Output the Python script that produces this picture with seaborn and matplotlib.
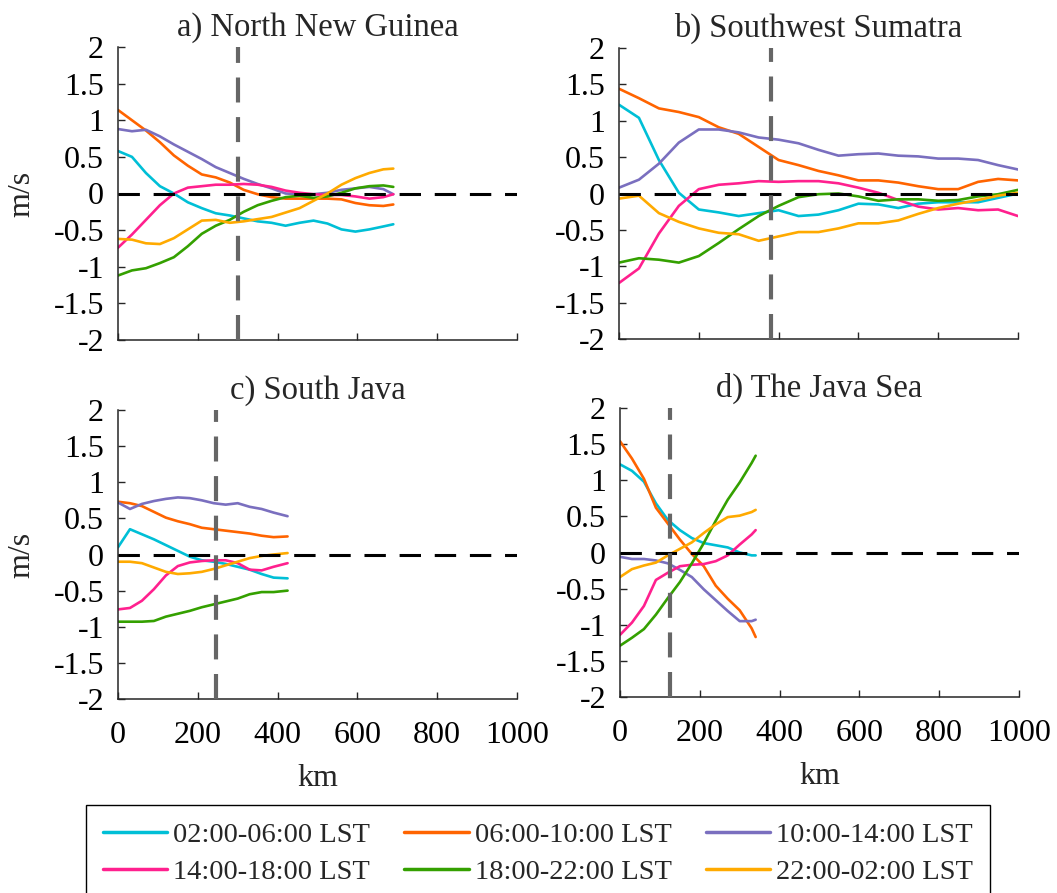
import pandas as pd
import matplotlib
matplotlib.use('Agg')
import matplotlib.pyplot as plt
from matplotlib.lines import Line2D
import seaborn as sns

# Periods and line colours
periods = ['02:00-06:00 LST', '06:00-10:00 LST', '10:00-14:00 LST',
           '14:00-18:00 LST', '18:00-22:00 LST', '22:00-02:00 LST']
colors = ['#00bfd6', '#ff6400', '#7a6fbf', '#ff208e', '#34a000', '#ffaa00']

# a) North New Guinea
km_a = [0, 35, 70, 105, 140, 175, 210, 245, 280, 315, 350, 385, 420, 455, 490, 525, 560, 595, 630, 665, 690]
a_0206 = [0.58, 0.50, 0.28, 0.10, 0.0, -0.12, -0.20, -0.27, -0.30, -0.34, -0.38, -0.40, -0.44, -0.40, -0.37, -0.41, -0.49, -0.52, -0.49, -0.45, -0.42]
a_0610 = [1.14, 1.0, 0.86, 0.70, 0.52, 0.38, 0.26, 0.22, 0.15, 0.05, -0.01, -0.05, -0.07, -0.07, -0.07, -0.07, -0.08, -0.13, -0.16, -0.17, -0.15]
a_1014 = [0.88, 0.85, 0.87, 0.78, 0.67, 0.57, 0.47, 0.36, 0.28, 0.20, 0.13, 0.07, 0.0, -0.01, -0.01, 0.01, 0.05, 0.07, 0.09, 0.06, -0.01]
a_1418 = [-0.74, -0.56, -0.36, -0.16, 0.0, 0.08, 0.10, 0.12, 0.12, 0.13, 0.12, 0.09, 0.04, 0.01, -0.01, -0.02, -0.02, -0.04, -0.07, -0.05, -0.01]
a_1822 = [-1.12, -1.05, -1.02, -0.95, -0.87, -0.72, -0.55, -0.44, -0.36, -0.25, -0.16, -0.10, -0.05, -0.03, -0.06, -0.04, 0.01, 0.07, 0.10, 0.11, 0.09]
a_2202 = [-0.62, -0.63, -0.68, -0.69, -0.61, -0.49, -0.37, -0.36, -0.40, -0.38, -0.35, -0.32, -0.26, -0.20, -0.10, 0.0, 0.12, 0.21, 0.28, 0.33, 0.34]

# b) Southwest Sumatra
km_b = [0, 50, 100, 150, 200, 250, 300, 350, 400, 450, 500, 550, 600, 650, 700, 750, 800, 850, 900, 950, 1000]
b_0206 = [1.22, 1.04, 0.46, 0.01, -0.22, -0.26, -0.31, -0.27, -0.23, -0.31, -0.29, -0.23, -0.14, -0.15, -0.20, -0.14, -0.12, -0.12, -0.12, -0.06, 0.0]
b_0610 = [1.44, 1.31, 1.17, 1.12, 1.05, 0.91, 0.82, 0.64, 0.46, 0.39, 0.31, 0.25, 0.18, 0.18, 0.15, 0.10, 0.06, 0.06, 0.16, 0.20, 0.18]
b_1014 = [0.08, 0.19, 0.41, 0.70, 0.88, 0.88, 0.84, 0.77, 0.74, 0.69, 0.60, 0.52, 0.54, 0.55, 0.52, 0.51, 0.48, 0.48, 0.46, 0.39, 0.33]
b_1418 = [-1.23, -1.03, -0.55, -0.17, 0.06, 0.12, 0.14, 0.17, 0.16, 0.17, 0.17, 0.14, 0.08, 0.01, -0.09, -0.18, -0.22, -0.20, -0.23, -0.22, -0.31]
b_1822 = [-0.95, -0.89, -0.91, -0.95, -0.86, -0.68, -0.49, -0.31, -0.17, -0.05, -0.01, 0.0, -0.04, -0.10, -0.08, -0.08, -0.10, -0.09, -0.04, -0.01, 0.05]
b_2202 = [-0.07, -0.03, -0.27, -0.39, -0.48, -0.54, -0.56, -0.65, -0.59, -0.53, -0.53, -0.48, -0.41, -0.41, -0.37, -0.28, -0.20, -0.14, -0.09, -0.03, 0.01]

# c) South Java
km_c = [0, 30, 60, 90, 120, 150, 180, 210, 240, 270, 300, 330, 360, 390, 425]
c_0206 = [0.10, 0.35, 0.28, 0.21, 0.13, 0.05, -0.03, -0.08, -0.10, -0.13, -0.17, -0.21, -0.27, -0.32, -0.33]
c_0610 = [0.73, 0.71, 0.67, 0.59, 0.51, 0.46, 0.42, 0.37, 0.35, 0.33, 0.31, 0.29, 0.26, 0.24, 0.25]
c_1014 = [0.72, 0.63, 0.70, 0.74, 0.77, 0.79, 0.78, 0.75, 0.71, 0.69, 0.71, 0.66, 0.63, 0.58, 0.53]
c_1418 = [-0.76, -0.74, -0.64, -0.48, -0.29, -0.16, -0.11, -0.09, -0.08, -0.08, -0.12, -0.21, -0.22, -0.17, -0.12]
c_1822 = [-0.93, -0.93, -0.93, -0.92, -0.86, -0.82, -0.78, -0.73, -0.69, -0.65, -0.61, -0.55, -0.52, -0.52, -0.50]
c_2202 = [-0.10, -0.10, -0.12, -0.18, -0.24, -0.27, -0.26, -0.24, -0.20, -0.15, -0.10, -0.05, -0.02, 0.0, 0.02]

# d) The Java Sea
km_d = [0, 30, 60, 90, 120, 150, 180, 210, 240, 270, 300, 330, 340]
d_0206 = [1.22, 1.13, 0.98, 0.68, 0.45, 0.31, 0.20, 0.13, 0.10, 0.07, 0.0, -0.04, -0.04]
d_0610 = [1.54, 1.30, 1.02, 0.62, 0.40, 0.18, -0.02, -0.19, -0.46, -0.64, -0.80, -1.05, -1.17]
d_1014 = [-0.06, -0.09, -0.09, -0.11, -0.15, -0.24, -0.34, -0.51, -0.66, -0.81, -0.95, -0.95, -0.93]
d_1418 = [-1.14, -0.97, -0.74, -0.38, -0.28, -0.19, -0.17, -0.16, -0.12, -0.04, 0.11, 0.25, 0.31]
d_1822 = [-1.29, -1.18, -1.06, -0.86, -0.63, -0.41, -0.15, 0.13, 0.44, 0.73, 0.97, 1.24, 1.34]
d_2202 = [-0.34, -0.23, -0.18, -0.14, -0.04, 0.05, 0.14, 0.27, 0.39, 0.49, 0.51, 0.56, 0.59]

titles = ['a) North New Guinea', 'b) Southwest Sumatra', 'c) South Java', 'd) The Java Sea']
kms = [km_a, km_b, km_c, km_d]
series = [[a_0206, a_0610, a_1014, a_1418, a_1822, a_2202],
          [b_0206, b_0610, b_1014, b_1418, b_1822, b_2202],
          [c_0206, c_0610, c_1014, c_1418, c_1822, c_2202],
          [d_0206, d_0610, d_1014, d_1418, d_1822, d_2202]]
coast_km = [300, 380, 245, 125]

sns.set_style('ticks', {'xtick.direction': 'in', 'ytick.direction': 'in',
                        'axes.edgecolor': '#262626'})
plt.rcParams['font.family'] = ['Liberation Serif', 'DejaVu Serif']
plt.rcParams['font.size'] = 23
plt.rcParams['axes.unicode_minus'] = False

W, H = 1057, 893
fig = plt.figure(figsize=(W / 100, H / 100), dpi=100)

# axes boxes in pixels: left, top, right, bottom
boxes = [(118, 47, 517, 340), (619, 48, 1018, 339),
         (118, 410, 517, 699), (620, 408, 1019, 697)]

for i, (l, t, r, b) in enumerate(boxes):
    ax = fig.add_axes([l / W, 1 - b / H, (r - l) / W, (b - t) / H])
    km = kms[i]
    df = pd.DataFrame({
        'km': km * 6,
        'speed': sum(series[i], []),
        'period': [p for p in periods for _ in km],
    })
    sns.lineplot(data=df, x='km', y='speed', hue='period', hue_order=periods,
                 palette=colors, linewidth=1.9, ax=ax, legend=False,
                 errorbar=None, sort=False)
    ax.axhline(0, color='black', lw=2.2, linestyle=(0, (7, 4.5)), zorder=5)
    ax.axvline(coast_km[i], color='#666666', lw=3, linestyle=(0, (6, 3.5)), zorder=5)

    ax.set_xlim(0, 1000)
    ax.set_ylim(-2, 2)
    ax.set_xticks([0, 200, 400, 600, 800, 1000])
    ax.set_yticks([-2, -1.5, -1, -0.5, 0, 0.5, 1, 1.5, 2])
    ax.set_yticklabels(['-2', '-1.5', '-1', '-0.5', '0', '0.5', '1', '1.5', '2'])
    ax.tick_params(axis='both', length=5, width=1, colors='#262626',
                   labelcolor='black', labelsize=23)
    ax.tick_params(axis='y', pad=10)
    ax.tick_params(axis='x', pad=16)
    sns.despine(ax=ax)
    for s in ['left', 'bottom']:
        ax.spines[s].set_linewidth(1.1)
    ax.set_title(titles[i], fontsize=23.5, pad=8)

    if i < 2:
        ax.tick_params(axis='x', labelbottom=False)
        ax.set_xlabel('')
    else:
        ax.set_xlabel('km', fontsize=23, labelpad=10)
    if i % 2 == 0:
        ax.set_ylabel('m/s', fontsize=23, labelpad=12)
    else:
        ax.set_ylabel('')

# Legend filled row by row like the original
handles = [Line2D([], [], color=c, lw=2.5) for c in colors]
order = [0, 3, 1, 4, 2, 5]
leg = fig.legend([handles[k] for k in order], [periods[k] for k in order],
                 ncol=3, loc='upper left',
                 bbox_to_anchor=(86 / W, 1 - 805 / H),
                 fontsize=20.5, frameon=True, fancybox=False, framealpha=1,
                 edgecolor='black', handlelength=2.25, handletextpad=0.22,
                 columnspacing=1.2, labelspacing=0.4, borderpad=0.6,
                 borderaxespad=0)
leg.get_frame().set_linewidth(1.0)

fig.savefig('out.png', dpi=100)
